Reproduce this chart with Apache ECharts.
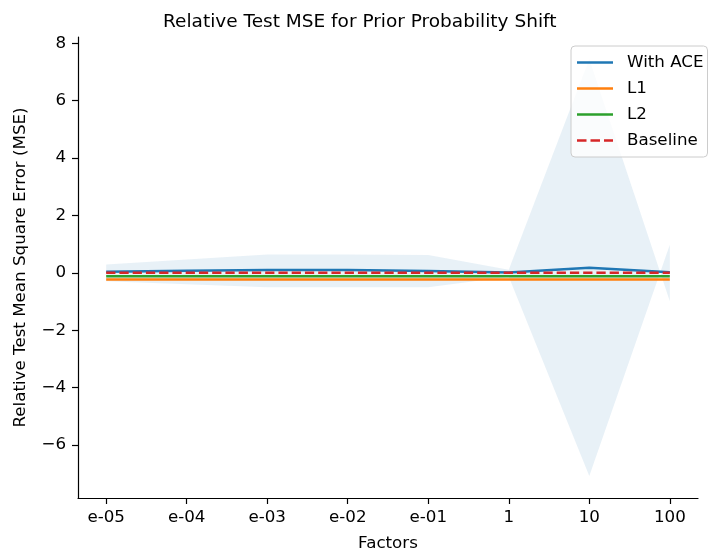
<!DOCTYPE html>
<html>
<head>
<meta charset="utf-8">
<script src="https://cdn.jsdelivr.net/npm/echarts@6/dist/echarts.min.js"></script>
<style>
  html, body { margin: 0; padding: 0; background: #fff; }
  #main { width: 710px; height: 557px; }
</style>
</head>
<body>
<div id="main"></div>
<script>
// factors on the x axis
var factors = ['e-05', 'e-04', 'e-03', 'e-02', 'e-01', '1', '10', '100'];
// mean relative MSE with ACE, and the two edges of its shaded band
// (at 100 the edges come out swapped, so the band crosses over before it)
var aceMean = [0.04, 0.07, 0.1, 0.1, 0.06, 0.01, 0.18, 0.02];
var aceUpper = [0.29, 0.46, 0.64, 0.64, 0.62, 0.11, 7.45, -0.99];
var aceLower = [-0.29, -0.4, -0.5, -0.5, -0.5, -0.14, -7.08, 0.98];
var l1 = [-0.23, -0.23, -0.23, -0.23, -0.23, -0.23, -0.23, -0.23];
var l2 = [-0.12, -0.12, -0.12, -0.12, -0.12, -0.12, -0.12, -0.12];
var baseline = [0, 0, 0, 0, 0, 0, 0, 0];
var yTicks = [-6, -4, -2, 0, 2, 4, 6, 8];

var font = 'DejaVu Sans';
var fs = 16.7;

function pairs(arr) {
  return arr.map(function (v, i) { return [i, v]; });
}

var bandData = factors.map(function (f, i) { return [i, aceLower[i], aceUpper[i]]; });

// legend icons drawn as thin bars (dashed one for the baseline)
var solidIcon = 'path://M0,0h36v2.5h-36z';
var dashIcon = 'path://M0,0h9.5v2.5h-9.5zM13.5,0h9.5v2.5h-9.5zM27,0h9v2.5h-9z';

var chartDom = document.getElementById('main');
var myChart = echarts.init(chartDom);
var option;

option = {
  animation: false,
  title: {
    text: 'Relative Test MSE for Prior Probability Shift',
    left: 158,
    top: 8,
    textStyle: { fontFamily: font, fontSize: 18.5, fontWeight: 'normal', color: '#000' }
  },
  grid: { left: 78, right: 12, top: 37, bottom: 58 },
  legend: {
    orient: 'vertical',
    left: 571,
    top: 46,
    padding: [8, 4, 8, 6],
    itemWidth: 36,
    itemHeight: 2.5,
    itemGap: 9,
    backgroundColor: 'rgba(255,255,255,0.8)',
    borderColor: '#cccccc',
    borderWidth: 1,
    borderRadius: 4,
    textStyle: { fontFamily: font, fontSize: fs, lineHeight: 17, color: '#000', padding: [0, 0, 0, 9] },
    data: [
      { name: 'With ACE', icon: solidIcon },
      { name: 'L1', icon: solidIcon },
      { name: 'L2', icon: solidIcon },
      { name: 'Baseline', icon: dashIcon }
    ]
  },
  xAxis: {
    type: 'value',
    min: -0.35,
    max: 7.35,
    name: 'Factors',
    nameLocation: 'middle',
    nameGap: 37,
    nameTextStyle: { fontFamily: font, fontSize: fs, color: '#000' },
    splitLine: { show: false },
    axisLine: { onZero: false, lineStyle: { color: '#000', width: 1.2 } },
    axisTick: { show: true, length: 6, customValues: factors.map(function (f, i) { return i; }), lineStyle: { color: '#000', width: 1.2 } },
    axisLabel: {
      customValues: factors.map(function (f, i) { return i; }),
      formatter: function (v) { return factors[Math.round(v)]; },
      fontFamily: font, fontSize: fs, color: '#000', margin: 11
    }
  },
  yAxis: {
    type: 'value',
    min: -7.85,
    max: 8.22,
    name: 'Relative Test Mean Square Error (MSE)',
    nameLocation: 'middle',
    nameGap: 49,
    nameTextStyle: { fontFamily: font, fontSize: fs, color: '#000' },
    splitLine: { show: false },
    axisLine: { show: true, onZero: false, lineStyle: { color: '#000', width: 1.2 } },
    axisTick: { show: true, length: 6, customValues: yTicks, lineStyle: { color: '#000', width: 1.2 } },
    axisLabel: {
      customValues: yTicks,
      formatter: function (v) { return v < 0 ? '\u2212' + Math.abs(v) : String(v); },
      fontFamily: font, fontSize: fs, color: '#000', margin: 12
    }
  },
  series: [
    {
      name: 'band',
      type: 'custom',
      data: bandData,
      encode: { x: 0, y: [1, 2] },
      silent: true,
      z: 1,
      renderItem: function (params, api) {
        if (params.dataIndex !== 0) return;
        var top = [], bottom = [];
        for (var i = 0; i < bandData.length; i++) {
          top.push(api.coord([bandData[i][0], bandData[i][2]]));
          bottom.unshift(api.coord([bandData[i][0], bandData[i][1]]));
        }
        return {
          type: 'polygon',
          shape: { points: top.concat(bottom) },
          style: { fill: 'rgba(31,119,180,0.1)' }
        };
      }
    },
    {
      name: 'With ACE',
      type: 'line',
      data: pairs(aceMean),
      symbol: 'none',
      color: '#1f77b4',
      lineStyle: { width: 2.5, color: '#1f77b4' },
      z: 5
    },
    {
      name: 'L1',
      type: 'line',
      data: pairs(l1),
      symbol: 'none',
      color: '#ff7f0e',
      lineStyle: { width: 2.5, color: '#ff7f0e' },
      z: 3
    },
    {
      name: 'L2',
      type: 'line',
      data: pairs(l2),
      symbol: 'none',
      color: '#2ca02c',
      lineStyle: { width: 2.5, color: '#2ca02c' },
      z: 4
    },
    {
      name: 'Baseline',
      type: 'line',
      data: pairs(baseline),
      symbol: 'none',
      color: '#d62728',
      lineStyle: { width: 2.5, color: '#d62728', type: [9.25, 4] },
      z: 6
    }
  ]
};

option && myChart.setOption(option);
</script>
</body>
</html>
